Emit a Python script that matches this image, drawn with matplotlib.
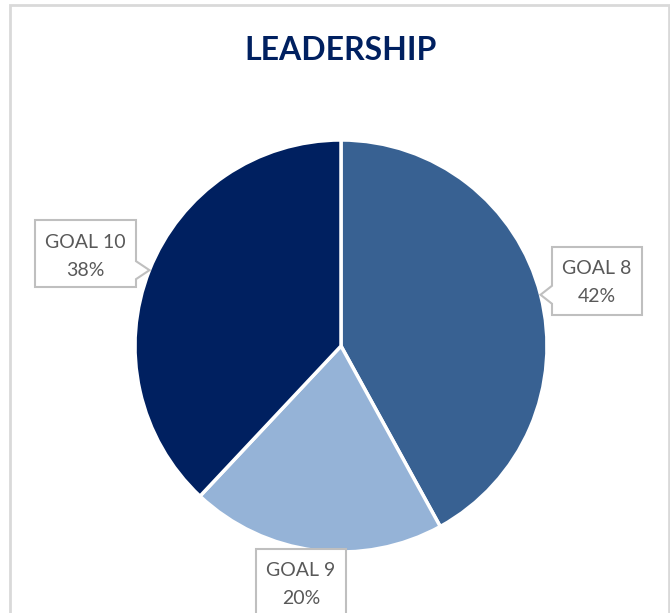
import matplotlib
matplotlib.use("Agg")
import numpy as np
import matplotlib.pyplot as plt
from matplotlib.patches import Polygon, Rectangle

# slice data, clockwise from 12 o'clock
goals = ["GOAL 8", "GOAL 9", "GOAL 10"]
shares = [42, 20, 38]
colors = ["#386192", "#95B3D7", "#002060"]

W, H = 670, 613
CX, CY, R = 341, H - 346, 206

fig = plt.figure(figsize=(W / 100, H / 100), dpi=100)
ax = fig.add_axes([0, 0, 1, 1])
ax.set_xlim(0, W)
ax.set_ylim(0, H)
ax.set_aspect("equal")
ax.axis("off")

# chart frame
ax.add_patch(Rectangle((10, -20), 659, H - 5 + 20, fill=False,
                       edgecolor="#D9D9D9", linewidth=2))

wedges, _ = ax.pie(shares, colors=colors, startangle=90, counterclock=False,
                   center=(CX, CY), radius=R,
                   wedgeprops=dict(edgecolor="white", linewidth=2.5))
ax.set_xlim(0, W)
ax.set_ylim(0, H)

ax.text(CX, H - 50, "LEADERSHIP", ha="center", va="center",
        fontsize=23, fontweight="bold", color="#002060", family="Lato")

# callout boxes: (left, top, right, bottom) in px, pointer side
boxes = {
    "GOAL 8": ((552, 247, 642, 315), "left"),
    "GOAL 9": ((256, 549, 346, 640), None),
    "GOAL 10": ((35, 220, 136, 287), "right"),
}

for w, name, pct in zip(wedges, goals, shares):
    (l, t, r, b), side = boxes[name]
    mid = np.deg2rad((w.theta1 + w.theta2) / 2)
    tipx, tipy = CX + R * np.cos(mid), CY + R * np.sin(mid)
    top, bot = H - t, H - b
    pts = [(l, top), (r, top)]
    if side == "right":
        pts += [(r, tipy + 9), (tipx, tipy), (r, tipy - 9)]
    pts += [(r, bot), (l, bot)]
    if side == "left":
        pts += [(l, tipy - 9), (tipx, tipy), (l, tipy + 9)]
    ax.add_patch(Polygon(pts, closed=True, facecolor="white",
                         edgecolor="#BFBFBF", linewidth=1.5, zorder=5))
    ax.text((l + r) / 2, top - 22, name, ha="center", va="center",
            fontsize=14, color="#595959", family="Lato", zorder=6)
    ax.text((l + r) / 2, top - 50, f"{pct}%", ha="center", va="center",
            fontsize=14, color="#595959", family="Lato", zorder=6)

fig.savefig("out.png", dpi=100, facecolor="white")
